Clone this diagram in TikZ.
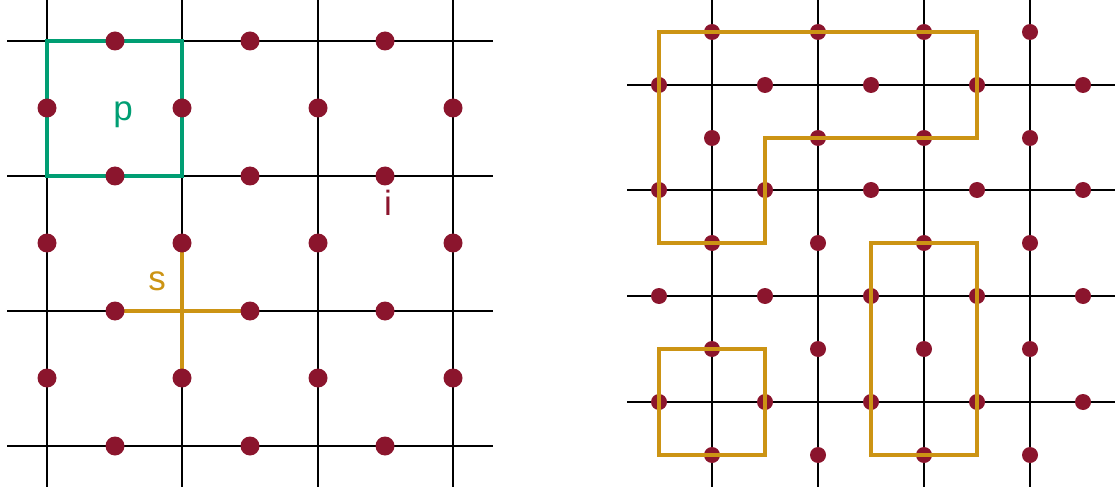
\documentclass[tikz,border=0pt]{standalone}
\usepackage{fontspec}
\setmainfont{Liberation Sans}
\definecolor{dotred}{RGB}{139,21,45}
\definecolor{pgreen}{RGB}{0,158,115}
\definecolor{sorange}{RGB}{204,148,20}
\begin{document}
\begin{tikzpicture}[x=1pt,y=-1pt,
  grid/.style={black,line width=1.5pt},
  bigdot/.style={circle,fill=dotred,inner sep=0pt,minimum size=19pt},
  smalldot/.style={circle,fill=dotred,inner sep=0pt,minimum size=16pt},
  plaq/.style={pgreen,line width=4.5pt,line join=miter},
  star/.style={sorange,line width=4.5pt},
  loop/.style={sorange,line width=4.5pt,line join=miter},
  lbl/.style={font=\fontsize{35}{40}\selectfont,inner sep=0pt}]
\useasboundingbox (0,0) rectangle (1115,494);
% ---------- left panel ----------
\foreach \x [count=\i] in {47,182,318,453}{
  \coordinate (LvT\i) at (\x,0); \coordinate (LvB\i) at (\x,487);
  \draw[grid] (LvT\i) -- (LvB\i);}
\foreach \y [count=\j] in {41,176,311,446}{
  \coordinate (LhL\j) at (7,\y); \coordinate (LhR\j) at (493,\y);
  \draw[grid] (LhL\j) -- (LhR\j);}
\coordinate (g1) at (47,41); \coordinate (g2) at (182,41);
\coordinate (g3) at (182,176); \coordinate (g4) at (47,176);
\draw[plaq] (g1) -- (g2) -- (g3) -- (g4) -- cycle;
\coordinate (sW) at (115,311); \coordinate (sE) at (250,311);
\coordinate (sN) at (182,243); \coordinate (sS) at (182,378);
\draw[star] (sW) -- (sE);
\draw[star] (sN) -- (sS);
% dots
\foreach \x [count=\i] in {115,250,385}{
  \foreach \y [count=\j] in {41,176,311,446}{
    \node[bigdot] (Lh\i\j) at (\x,\y) {};}}
\foreach \x [count=\i] in {47,182,318,453}{
  \foreach \y [count=\j] in {108,243,378}{
    \node[bigdot] (Lv\i\j) at (\x,\y) {};}}
\node[lbl,text=pgreen] (p) at (123,115) {p};
\node[lbl,text=dotred] (i) at (388,203) {i};
\node[lbl,text=sorange] (s) at (157,281) {s};
% ---------- right panel ----------
\foreach \x [count=\i] in {712,818,924,1030}{
  \coordinate (RvT\i) at (\x,0); \coordinate (RvB\i) at (\x,487);
  \draw[grid] (RvT\i) -- (RvB\i);}
\foreach \y [count=\j] in {85,190,296,402}{
  \coordinate (RhL\j) at (627,\y); \coordinate (RhR\j) at (1115,\y);
  \draw[grid] (RhL\j) -- (RhR\j);}
\foreach \x [count=\i] in {659,765,871,977,1083}{
  \foreach \y [count=\j] in {85,190,296,402}{
    \node[smalldot] (Rh\i\j) at (\x,\y) {};}}
\foreach \x [count=\i] in {712,818,924,1030}{
  \foreach \y [count=\j] in {32,138,243,349,455}{
    \node[smalldot] (Rv\i\j) at (\x,\y) {};}}
% loops
\coordinate (a1) at (659,32);  \coordinate (a2) at (977,32);
\coordinate (a3) at (977,138); \coordinate (a4) at (765,138);
\coordinate (a5) at (765,243); \coordinate (a6) at (659,243);
\draw[loop] (a1) -- (a2) -- (a3) -- (a4) -- (a5) -- (a6) -- cycle;
\coordinate (b1) at (871,243); \coordinate (b2) at (977,243);
\coordinate (b3) at (977,455); \coordinate (b4) at (871,455);
\draw[loop] (b1) -- (b2) -- (b3) -- (b4) -- cycle;
\coordinate (c1) at (659,349); \coordinate (c2) at (765,349);
\coordinate (c3) at (765,455); \coordinate (c4) at (659,455);
\draw[loop] (c1) -- (c2) -- (c3) -- (c4) -- cycle;
\end{tikzpicture}
\end{document}
